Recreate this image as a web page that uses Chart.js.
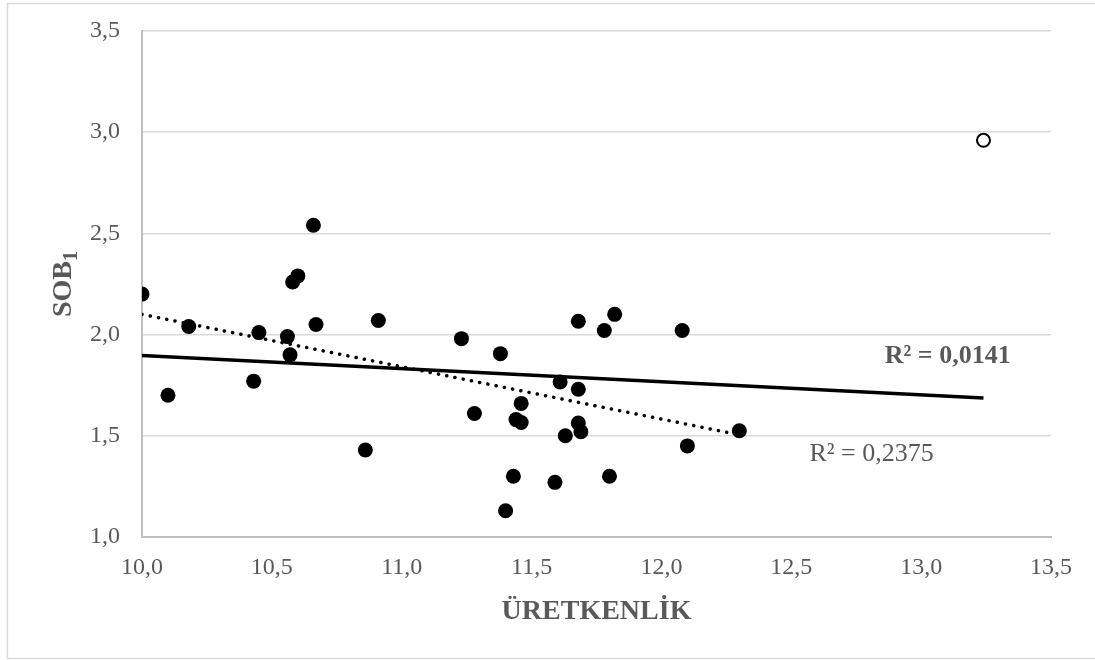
<!DOCTYPE html>
<html>
<head>
<meta charset="utf-8">
<script src="https://cdn.jsdelivr.net/npm/chart.js@4/dist/chart.umd.min.js"></script>
<style>
  html, body { margin: 0; padding: 0; background: #fff; }
  #wrap { width: 1095px; height: 660px; position: relative; }
</style>
</head>
<body>
<div id="wrap"><canvas id="chart"></canvas></div>
<script>
// ========== データ ==========
const uretkenlik = [10.00, 10.10, 10.18, 10.43, 10.45, 10.56, 10.57, 10.58, 10.60, 10.66,
                    10.67, 10.86, 10.91, 11.23, 11.28, 11.38, 11.40, 11.43, 11.44, 11.46,
                    11.46, 11.59, 11.61, 11.63, 11.68, 11.68, 11.69, 11.68, 11.78, 11.80,
                    11.82, 12.08, 12.10, 12.30];
const sob1 = [2.20, 1.70, 2.04, 1.77, 2.01, 1.99, 1.90, 2.26, 2.29, 2.54,
              2.05, 1.43, 2.07, 1.98, 1.61, 1.906, 1.13, 1.30, 1.58, 1.566,
              1.66, 1.27, 1.766, 1.50, 2.066, 1.563, 1.52, 1.73, 2.02, 1.30,
              2.10, 2.02, 1.45, 1.525];

// uç değer (boş daire)
const outlierX = [13.24];
const outlierY = [2.96];

// trend çizgileri: uç noktalar
const trendAllX = [10.0, 13.24];
const trendAllY = [1.897, 1.687];
const trendAllLabel = "R² = 0,0141";

const trendSubX = [10.0, 12.28];
const trendSubY = [2.10, 1.51];
const trendSubLabel = "R² = 0,2375";

const xTitle = "ÜRETKENLİK";
const yTitle = "SOB";
const yTitleSub = "1";

const SERIF = "'Liberation Serif', 'Times New Roman', serif";
const GREY = "#595959";

function toPoints(xs, ys) {
  return xs.map((x, i) => ({ x: x, y: ys[i] }));
}

// ========== 追加描画（枠・軸タイトル・R²） ==========
const decorPlugin = {
  id: "decor",
  beforeDraw(chart) {
    const ctx = chart.ctx;
    ctx.save();
    ctx.strokeStyle = "#d9d9d9";
    ctx.lineWidth = 1.5;
    ctx.strokeRect(7.5, 3.5, 1095, 655);
    ctx.restore();
  },
  afterDraw(chart) {
    const ctx = chart.ctx;
    const area = chart.chartArea;
    const xs = chart.scales.x, ys = chart.scales.y;
    ctx.save();
    ctx.fillStyle = GREY;

    // x ekseni başlığı
    ctx.font = "bold 28px " + SERIF;
    ctx.textAlign = "center";
    ctx.textBaseline = "middle";
    ctx.fillText(xTitle, (area.left + area.right) / 2, 612);

    // y ekseni başlığı (alt simgeli)
    ctx.save();
    ctx.translate(64, (area.top + area.bottom) / 2);
    ctx.rotate(-Math.PI / 2);
    ctx.font = "bold 28px " + SERIF;
    const wMain = ctx.measureText(yTitle).width;
    ctx.font = "bold 20px " + SERIF;
    const wSub = ctx.measureText(yTitleSub).width;
    const start = -(wMain + wSub) / 2;
    ctx.textAlign = "left";
    ctx.textBaseline = "middle";
    ctx.font = "bold 28px " + SERIF;
    ctx.fillText(yTitle, start, 0);
    ctx.font = "bold 20px " + SERIF;
    ctx.fillText(yTitleSub, start + wMain, 8);
    ctx.restore();

    // R² etiketleri
    ctx.textAlign = "left";
    ctx.textBaseline = "middle";
    ctx.font = "bold 26px " + SERIF;
    ctx.fillText(trendAllLabel, xs.getPixelForValue(12.86), ys.getPixelForValue(1.895));
    ctx.font = "26px " + SERIF;
    ctx.fillText(trendSubLabel, xs.getPixelForValue(12.57), ys.getPixelForValue(1.41));
    ctx.restore();
  }
};

// ========== グラフ ==========
new Chart(document.getElementById("chart"), {
  type: "scatter",
  data: {
    datasets: [
      {
        label: "trend all",
        type: "line",
        data: toPoints(trendAllX, trendAllY),
        borderColor: "#000",
        borderWidth: 3.5,
        pointRadius: 0,
        fill: false,
        order: 3
      },
      {
        label: "trend sub",
        type: "line",
        data: toPoints(trendSubX, trendSubY),
        borderColor: "#000",
        borderWidth: 3.5,
        borderDash: [0.1, 8.3],
        borderCapStyle: "round",
        pointRadius: 0,
        fill: false,
        order: 2
      },
      {
        label: "SOB1",
        data: toPoints(uretkenlik, sob1),
        backgroundColor: "#000",
        borderColor: "#000",
        pointRadius: 7.5,
        pointBorderWidth: 0,
        order: 1
      },
      {
        label: "outlier",
        data: toPoints(outlierX, outlierY),
        backgroundColor: "#fff",
        borderColor: "#000",
        pointRadius: 6.5,
        pointBorderWidth: 2,
        order: 0
      }
    ]
  },
  options: {
    responsive: true,
    maintainAspectRatio: false,
    animation: false,
    layout: { padding: { left: 0, right: 44, top: 31, bottom: 0 } },
    plugins: {
      legend: { display: false },
      tooltip: { enabled: false }
    },
    scales: {
      x: {
        type: "linear",
        min: 10, max: 13.5,
        grid: { display: false, drawTicks: false },
        border: { display: true, color: "#bfbfbf", width: 2 },
        ticks: {
          stepSize: 0.5,
          padding: 16,
          color: GREY,
          font: { family: SERIF, size: 24 },
          callback: v => v.toFixed(1).replace(".", ",")
        },
        afterFit: s => { s.height = 123; s.paddingLeft = 0; s.paddingRight = 0; }
      },
      y: {
        min: 1, max: 3.5,
        grid: { color: "#d9d9d9", lineWidth: 1.5, drawTicks: false },
        border: { display: true, color: "#bfbfbf", width: 2 },
        ticks: {
          stepSize: 0.5,
          padding: 22,
          color: GREY,
          font: { family: SERIF, size: 24 },
          callback: v => v.toFixed(1).replace(".", ",")
        },
        afterFit: s => { s.width = 142; s.paddingTop = 0; s.paddingBottom = 0; }
      }
    }
  },
  plugins: [decorPlugin]
});
</script>
</body>
</html>
